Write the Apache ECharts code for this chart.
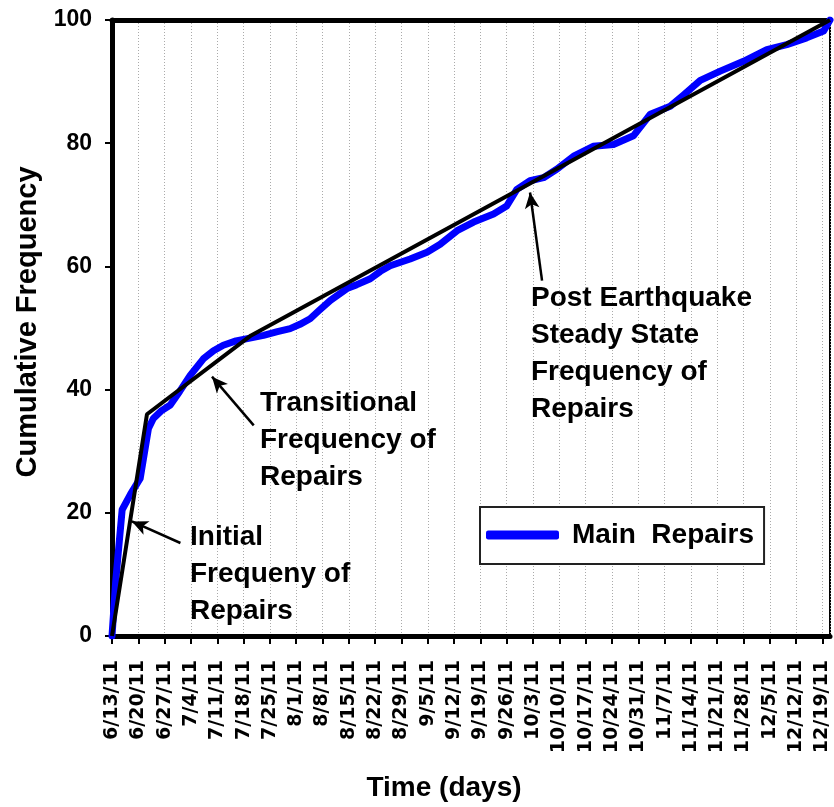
<!DOCTYPE html>
<html>
<head>
<meta charset="utf-8">
<script src="https://cdn.jsdelivr.net/npm/echarts@6/dist/echarts.min.js"></script>
<style>
html,body{margin:0;padding:0;background:#fff;}
#chart{width:834px;height:807px;}
</style>
</head>
<body>
<div id="chart"></div>
<script>
// ---- Data (x = days since 6/13/11) ----
const tickLabels = ['6/13/11','6/20/11','6/27/11','7/4/11','7/11/11','7/18/11','7/25/11','8/1/11','8/8/11','8/15/11','8/22/11','8/29/11','9/5/11','9/12/11','9/19/11','9/26/11','10/3/11','10/10/11','10/17/11','10/24/11','10/31/11','11/7/11','11/14/11','11/21/11','11/28/11','12/5/11','12/12/11','12/19/11'];
const yTicks = [0, 20, 40, 60, 80, 100];

const repairDays = [0,1,2.7,4.9,7.5,9.7,11,13,15.5,18,20.8,24.3,27,29.6,33,37,40.3,44,47.4,50,52.7,55,58.1,62.5,65,68.7,71.4,74,79.3,83.8,87.3,91.8,96.2,101.5,105,107.7,111.2,114.8,118.4,122.8,128,133.4,138.7,143.2,148.5,152,156.5,161.8,168,174.2,179.5,184.8,189.3,191];
const repairValues = [0,9,20.5,23,25.6,33.7,35.3,36.5,37.5,39.7,42.3,45,46.3,47.2,47.9,48.4,48.8,49.4,49.9,50.6,51.5,52.8,54.5,56.4,57,58,59.2,60.1,61.2,62.3,63.6,65.8,67.2,68.5,69.8,72.5,73.9,74.4,75.8,77.9,79.5,79.8,81.2,84.7,86,87.8,90.2,91.7,93.3,95.2,96,97.1,98.2,100];

const trendDays = [0, 9.3, 37, 191];
const trendValues = [0, 36, 48.8, 100];

// annotation arrows: [tailDay, tailVal, headDay, headVal]
const arrows = [
  [18.2, 15.1, 5.3, 18.6],
  [37.7, 34.2, 26.6, 42.1],
  [114.4, 57.7, 111.2, 72.0]
];
const notes = [
  {text: 'Initial\nFrequeny of\nRepairs', x: 190, y: 519},
  {text: 'Transitional\nFrequency of\nRepairs', x: 260, y: 385},
  {text: 'Post Earthquake\nSteady State\nFrequency of\nRepairs', x: 531, y: 280}
];

const xMax = 191;

const chart = echarts.init(document.getElementById('chart'));
const font = 'Liberation Sans, Arial, sans-serif';

chart.setOption({
  animation: false,
  backgroundColor: '#fff',
  grid: {left: 112, right: 4, top: 20, bottom: 169, show: true, borderColor: '#000', borderWidth: 2},
  legend: {
    data: [{name: 'Main  Repairs', icon: 'roundRect'}],
    left: 480, top: 507,
    itemWidth: 73, itemHeight: 9,
    padding: [14, 10, 15, 6],
    borderColor: '#222', borderWidth: 2,
    backgroundColor: '#fff',
    textStyle: {fontFamily: font, fontWeight: 'bold', fontSize: 28, color: '#000', padding: [0, 0, 0, 8]}
  },
  xAxis: [{
    type: 'value', min: 0, max: xMax, interval: 7,
    name: 'Time (days)', nameLocation: 'middle', nameGap: 138,
    nameTextStyle: {fontFamily: font, fontWeight: 'bold', fontSize: 28, color: '#000', padding: [0, 54, 0, 0]},
    axisLine: {show: true, onZero: false, lineStyle: {color: '#000', width: 5}},
    axisTick: {show: true, length: 8, lineStyle: {color: '#000', width: 2}},
    axisLabel: {
      rotate: 90, margin: 24, color: '#000',
      fontFamily: 'DejaVu Sans, sans-serif', fontWeight: 'bold', fontSize: 19,
      showMaxLabel: false,
      formatter: v => (v % 7 === 0 && v / 7 < tickLabels.length) ? tickLabels[v / 7] : ''
    },
    splitLine: {show: true, lineStyle: {color: '#aaa', type: [1, 2], width: 1}}
  }, {
    type: 'value', min: 0, max: xMax, position: 'top',
    axisLine: {show: true, onZero: false, lineStyle: {color: '#000', width: 5}},
    axisTick: {show: false}, axisLabel: {show: false}, splitLine: {show: false}
  }],
  yAxis: {
    type: 'value', min: 0, max: 100, interval: 20,
    name: 'Cumulative Frequency', nameLocation: 'middle', nameGap: 70,
    nameTextStyle: {fontFamily: font, fontWeight: 'bold', fontSize: 29, color: '#000', padding: [0, 0, 0, 12]},
    axisLine: {show: true, onZero: false, lineStyle: {color: '#000', width: 5}},
    axisTick: {show: true, length: 7, lineStyle: {color: '#000', width: 2}},
    axisLabel: {margin: 20, color: '#000', fontFamily: font, fontWeight: 'bold', fontSize: 23,
      formatter: v => yTicks.includes(v) ? String(v) : ''},
    splitLine: {show: false}
  },
  series: [{
    name: 'Main  Repairs', type: 'line',
    data: repairDays.map((d, i) => [d, repairValues[i]]),
    showSymbol: false, symbol: 'none',
    lineStyle: {color: '#0000ff', width: 7, join: 'round', cap: 'round'},
    itemStyle: {color: '#0000ff'},
    z: 2
  }, {
    name: 'Trend', type: 'line',
    data: trendDays.map((d, i) => [d, trendValues[i]]),
    showSymbol: false, symbol: 'none',
    lineStyle: {color: '#000', width: 4},
    itemStyle: {color: '#000'},
    z: 3,
    markLine: {
      silent: true, animation: false,
      symbol: ['none', 'arrow'], symbolSize: [11, 16],
      label: {show: false},
      lineStyle: {color: '#000', width: 2.5, type: 'solid'},
      data: arrows.map(a => [{coord: [a[0], a[1]]}, {coord: [a[2], a[3]]}])
    }
  }],
  graphic: notes.map(n => ({
    type: 'text', left: n.x, top: n.y, z: 10,
    style: {text: n.text, fill: '#000', font: 'bold 28px ' + font, lineHeight: 37}
  }))
});
</script>
</body>
</html>
